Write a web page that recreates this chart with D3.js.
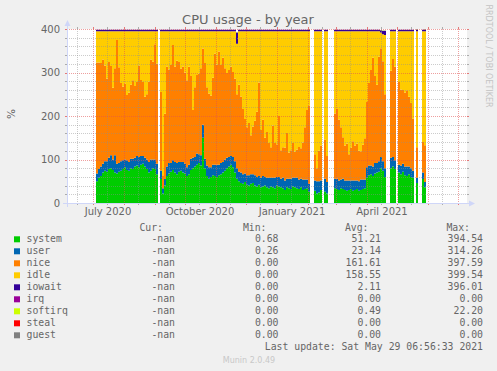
<!DOCTYPE html>
<html>
<head>
<meta charset="utf-8">
<script src="https://cdn.jsdelivr.net/npm/d3@7"></script>
<style>
  body { margin: 0; background: #f0f0f0; }
  svg { display: block; }
</style>
</head>
<body>
<svg id="chart" width="497" height="371"></svg>
<script>
// one sample every 2 days, first one on 4 Jul 2020 (null = no data)
const firstSample = new Date(Date.UTC(2020, 6, 4));
const stepDays = 2;

const system = [
  50,58,62,70,74,72,78,80,76,70,68,72,74,78,82,76,74,80,78,84,
  86,82,88,90,84,78,70,74,80,78,66,null,55,22,40,62,68,72,76,70,
  66,72,74,70,68,62,66,76,80,84,88,92,86,150,80,62,56,60,64,62,
  60,64,66,70,74,80,84,88,82,70,56,50,46,44,48,42,40,44,46,40,
  38,42,36,38,40,36,34,38,36,34,40,38,36,34,30,36,34,32,38,36,
  34,32,36,30,32,34,26,null,null,28,22,24,30,null,26,22,null,null,null,34,
  32,30,34,32,30,28,30,32,28,30,32,28,30,32,34,58,64,66,62,68,
  70,72,80,74,60,null,null,80,84,78,null,70,66,72,64,62,66,60,58,null,
  46,null,null,55,36
];
const user = [
  18,20,22,20,22,24,26,30,24,40,22,20,22,20,18,22,20,22,24,20,
  22,24,20,18,20,22,24,26,20,22,24,null,20,12,15,22,24,20,22,24,
  26,22,20,24,22,20,22,26,24,22,26,20,24,30,22,24,26,22,24,26,
  28,24,26,24,26,24,22,20,24,26,24,22,24,22,20,22,24,22,20,24,
  22,20,22,24,20,22,24,20,22,24,20,22,20,24,22,20,22,24,20,22,
  24,22,20,24,22,20,18,null,null,24,28,26,22,null,30,26,null,null,null,22,
  24,22,20,24,22,24,22,20,24,22,20,22,24,22,20,24,22,20,22,24,
  22,24,26,22,20,null,null,24,22,20,null,18,20,18,20,22,18,20,16,null,
  12,null,null,15,12
];
const nice = [
  255,245,238,240,220,190,220,205,165,200,285,220,180,170,175,150,160,170,180,165,
  170,210,175,170,140,150,185,230,225,265,230,null,180,30,150,230,215,225,265,220,
  235,230,215,220,210,200,225,190,110,160,180,185,200,175,220,180,170,165,200,255,
  230,260,225,240,210,195,200,205,195,190,170,200,175,150,125,110,120,90,110,125,
  150,215,110,130,90,105,80,70,120,80,75,140,65,70,75,105,60,65,80,60,
  65,75,70,85,120,160,180,null,null,60,30,70,80,null,90,60,null,null,null,150,
  160,140,120,95,80,85,60,75,90,80,85,70,65,80,95,150,190,220,250,200,
  180,240,250,230,170,null,null,200,225,215,null,190,175,170,170,175,160,150,120,null,
  70,null,null,70,85
];
const idle = [
  72,72,73,65,79,109,71,80,130,85,20,83,119,127,120,147,141,123,113,126,
  117,79,112,117,151,145,116,65,70,30,75,null,140,331,190,81,88,78,32,81,
  68,71,86,81,95,113,82,103,181,129,101,98,85,40,73,129,143,148,107,52,
  77,47,78,61,85,96,89,82,94,109,116,123,150,179,202,221,211,239,219,206,
  185,118,227,203,245,232,257,267,217,257,260,195,274,267,268,234,279,274,257,277,
  272,266,269,256,221,181,171,null,null,283,315,275,263,null,249,287,null,null,null,189,
  179,203,221,244,263,258,283,268,253,263,258,275,276,261,246,163,119,89,61,103,
  123,59,36,62,136,null,null,91,64,82,null,117,134,135,141,136,151,165,201,null,
  267,null,null,255,262
];
const iowait = [
  3,3,3,3,3,3,3,3,3,3,3,3,3,3,3,3,3,3,3,3,
  3,3,3,3,3,3,3,3,3,3,3,null,3,3,3,3,3,3,3,3,
  3,3,3,3,3,3,3,3,3,3,3,3,3,3,3,3,3,3,3,3,
  3,3,3,3,3,3,3,3,3,3,26,3,3,3,3,3,3,3,3,3,
  3,3,3,3,3,3,3,3,3,3,3,3,3,3,3,3,3,3,3,3,
  3,3,3,3,3,3,4,null,null,3,3,3,3,null,3,3,null,null,null,3,
  3,3,3,3,3,3,3,3,3,3,3,3,3,3,3,3,3,3,3,3,
  3,3,5,8,10,null,null,3,3,3,null,3,3,3,3,3,3,3,3,null,
  4,null,null,3,4
];
const softirq = [
  0.5,0.5,0.5,0.5,0.5,0.5,0.5,0.5,0.5,0.5,0.5,0.5,0.5,0.5,0.5,0.5,0.5,0.5,0.5,0.5,
  0.5,0.5,0.5,0.5,0.5,0.5,0.5,0.5,0.5,0.5,0.5,null,0.5,0.5,0.5,0.5,0.5,0.5,0.5,0.5,
  0.5,0.5,0.5,0.5,0.5,0.5,0.5,0.5,0.5,0.5,0.5,0.5,0.5,0.5,0.5,0.5,0.5,0.5,0.5,0.5,
  0.5,0.5,0.5,0.5,0.5,0.5,0.5,0.5,0.5,0.5,0.5,0.5,0.5,0.5,0.5,0.5,0.5,0.5,0.5,0.5,
  0.5,0.5,0.5,0.5,0.5,0.5,0.5,0.5,0.5,0.5,0.5,0.5,0.5,0.5,0.5,0.5,0.5,0.5,0.5,0.5,
  0.5,0.5,0.5,0.5,0.5,0.5,0.5,null,null,0.5,0.5,0.5,0.5,null,0.5,0.5,null,null,null,0.5,
  0.5,0.5,0.5,0.5,0.5,0.5,0.5,0.5,0.5,0.5,0.5,0.5,0.5,0.5,0.5,0.5,0.5,0.5,0.5,0.5,
  0.5,0.5,0.5,0.5,0.5,null,null,0.5,0.5,0.5,null,0.5,0.5,0.5,0.5,0.5,0.5,0.5,0.5,null,
  0.5,null,null,0.5,0.5
];

// legend
const legendNames = ["system","user","nice","idle","iowait","irq","softirq","steal","guest"];
const legendColors = ["#00cc00","#0066b3","#ff8000","#ffcc00","#330099","#990099","#ccff00","#ff0000","#808080"];
const curVals = ["-nan","-nan","-nan","-nan","-nan","-nan","-nan","-nan","-nan"];
const minVals = ["0.68","0.26","0.00","0.00","0.00","0.00","0.00","0.00","0.00"];
const avgVals = ["51.21","23.14","161.61","158.55","2.11","0.00","0.49","0.00","0.00"];
const maxVals = ["394.54","314.26","397.59","399.54","396.01","0.00","22.20","0.00","0.00"];

const yTicks = [0, 100, 200, 300, 400];
const labelMonths = ["2020-07-16", "2020-10-16", "2021-01-16", "2021-04-16"];

const svg = d3.select("#chart");
const sans = "'DejaVu Sans', sans-serif";
const mono = "'DejaVu Sans Mono', monospace";
const fontCol = "#666666";

const plotL = 67, plotR = 467, plotT = 29, plotB = 203;

const x = d3.scaleUtc()
  .domain([new Date(Date.UTC(2020, 5, 5)), new Date(Date.UTC(2021, 6, 10))])
  .range([plotL, plotR]);
const y = d3.scaleLinear().domain([0, 400]).range([plotB, plotT]);

// white canvas
svg.append("rect")
  .attr("x", plotL).attr("y", plotT)
  .attr("width", plotR - plotL).attr("height", plotB - plotT)
  .attr("fill", "#ffffff");

// build table for the stack
const series = { system, user, nice, idle, iowait, softirq };
const keys = ["system", "user", "nice", "idle", "iowait", "softirq"];
const table = system.map((v, i) => {
  const row = { t: d3.utcDay.offset(firstSample, i * stepDays), ok: v !== null };
  keys.forEach(k => { row[k] = series[k][i] ?? 0; });
  return row;
});
const layers = d3.stack().keys(keys)(table);

const area = d3.area()
  .defined(d => d.ok)
  .x(d => x(d.t))
  .y0(d => y(d.y0))
  .y1(d => y(d.y1));

const colorOf = k => legendColors[legendNames.indexOf(k)];

svg.append("g").selectAll("path")
  .data(layers)
  .enter()
  .append("path")
    .attr("fill", l => colorOf(l.key))
    .attr("d", l => {
      // each sample is a flat step that lasts stepDays
      const pts = l.flatMap(p => {
        const t0 = p.data.t, t1 = d3.utcDay.offset(t0, stepDays);
        return [
          { t: t0, y0: p[0], y1: p[1], ok: p.data.ok },
          { t: t1, y0: p[0], y1: p[1], ok: p.data.ok }
        ];
      });
      return area(pts);
    });

// grid (drawn over the data, like rrdtool)
const minorCol = "rgba(143,143,143,0.45)";
const majorCol = "rgba(224,80,80,0.55)";
const grid = svg.append("g").attr("stroke-dasharray", "1,1").attr("stroke-width", 1);

d3.range(20, 401, 20).forEach(v => {
  const major = v % 100 === 0;
  const yy = Math.round(y(v)) + 0.5;
  grid.append("line")
    .attr("x1", plotL).attr("x2", plotR)
    .attr("y1", yy).attr("y2", yy)
    .attr("stroke", major ? majorCol : minorCol);
});

const monthStarts = d3.utcMonth.range(x.domain()[0], x.domain()[1]);
const midMonths = monthStarts.map(d => d3.utcDay.offset(d, 14)).concat([new Date(Date.UTC(2020, 5, 15))]);
midMonths.forEach(d => {
  const xx = Math.round(x(d)) + 0.5;
  if (xx < plotL || xx > plotR) return;
  grid.append("line").attr("x1", xx).attr("x2", xx).attr("y1", plotT).attr("y2", plotB).attr("stroke", minorCol);
});
monthStarts.forEach(d => {
  const xx = Math.round(x(d)) + 0.5;
  grid.append("line").attr("x1", xx).attr("x2", xx).attr("y1", plotT).attr("y2", plotB).attr("stroke", majorCol);
});

// small tick stubs on the frame
const stubs = svg.append("g").attr("stroke-width", 1);
d3.range(20, 401, 20).forEach(v => {
  const major = v % 100 === 0;
  const yy = Math.round(y(v)) + 0.5;
  const c = major ? "rgba(224,80,80,0.75)" : "rgba(143,143,143,0.7)";
  stubs.append("line").attr("x1", plotL - 2).attr("x2", plotL).attr("y1", yy).attr("y2", yy).attr("stroke", c);
  stubs.append("line").attr("x1", plotR).attr("x2", plotR + 2).attr("y1", yy).attr("y2", yy).attr("stroke", c);
});
midMonths.concat(monthStarts).forEach((d, i) => {
  const xx = Math.round(x(d)) + 0.5;
  if (xx < plotL || xx > plotR) return;
  const c = i >= midMonths.length ? "rgba(224,80,80,0.75)" : "rgba(143,143,143,0.7)";
  stubs.append("line").attr("x1", xx).attr("x2", xx).attr("y1", plotB).attr("y2", plotB + 2).attr("stroke", c);
  stubs.append("line").attr("x1", xx).attr("x2", xx).attr("y1", plotT - 2).attr("y2", plotT).attr("stroke", c);
});

// axes with arrows
const axisCol = "#cfd6f8";
svg.append("line").attr("x1", plotL - 4).attr("x2", plotR + 4)
  .attr("y1", plotB + 0.5).attr("y2", plotB + 0.5).attr("stroke", axisCol);
svg.append("line").attr("x1", plotL + 0.5).attr("x2", plotL + 0.5)
  .attr("y1", plotB + 4).attr("y2", plotT - 4).attr("stroke", axisCol);
svg.append("path")
  .attr("d", `M${plotR + 2},${plotB - 2.5}L${plotR + 8},${plotB + 0.5}L${plotR + 2},${plotB + 3.5}Z`)
  .attr("fill", axisCol);
svg.append("path")
  .attr("d", `M${plotL - 2.5},${plotT - 3}L${plotL + 0.5},${plotT - 9}L${plotL + 3.5},${plotT - 3}Z`)
  .attr("fill", axisCol);

// y tick labels
svg.append("g").selectAll("text")
  .data(yTicks).enter().append("text")
    .attr("x", 60).attr("y", v => y(v) + 3.6)
    .attr("text-anchor", "end")
    .attr("font-family", sans).attr("font-size", 10).attr("fill", fontCol)
    .text(v => v);

// x labels
const fmt = d3.utcFormat("%B %Y");
svg.append("g").selectAll("text")
  .data(labelMonths.map(s => new Date(s + "T00:00:00Z"))).enter().append("text")
    .attr("x", d => x(d)).attr("y", 215)
    .attr("text-anchor", "middle")
    .attr("font-family", sans).attr("font-size", 10).attr("fill", fontCol)
    .text(d => fmt(d));

// title and side texts
svg.append("text").attr("x", 248).attr("y", 24).attr("text-anchor", "middle")
  .attr("font-family", sans).attr("font-size", 13).attr("fill", fontCol)
  .text("CPU usage - by year");
svg.append("text").attr("transform", "translate(15,114) rotate(-90)").attr("text-anchor", "middle")
  .attr("font-family", sans).attr("font-size", 10.5).attr("fill", fontCol)
  .text("%");
svg.append("text").attr("transform", "translate(485.5,56) rotate(90)").attr("text-anchor", "middle")
  .attr("font-family", sans).attr("font-size", 8).attr("fill", "#c4c4c4")
  .text("RRDTOOL / TOBI OETIKER");

// legend
const lg = svg.append("g").attr("font-family", mono).attr("font-size", 9.8).attr("fill", fontCol);
const cols = [
  { x: 175, head: "Cur:", hx: 163, vals: curVals },
  { x: 278.5, head: "Min:", hx: 266.5, vals: minVals },
  { x: 381, head: "Avg:", hx: 368.5, vals: avgVals },
  { x: 483, head: "Max:", hx: 470, vals: maxVals }
];
cols.forEach(c => {
  lg.append("text").attr("x", c.hx).attr("y", 231).attr("text-anchor", "end").text(c.head);
});
legendNames.forEach((name, i) => {
  const by = 241.6 + i * 12;
  lg.append("rect").attr("x", 14).attr("y", by - 5.3).attr("width", 6).attr("height", 6)
    .attr("fill", legendColors[i]);
  lg.append("text").attr("x", 26.5).attr("y", by).text(name);
  cols.forEach(c => {
    lg.append("text").attr("x", c.x).attr("y", by).attr("text-anchor", "end").text(c.vals[i]);
  });
});
lg.append("text").attr("x", 483).attr("y", 349.7).attr("text-anchor", "end")
  .text("Last update: Sat May 29 06:56:33 2021");

svg.append("text").attr("x", 249).attr("y", 363).attr("text-anchor", "middle")
  .attr("font-family", sans).attr("font-size", 8).attr("fill", "#c8c8c8")
  .text("Munin 2.0.49");
</script>
</body>
</html>
